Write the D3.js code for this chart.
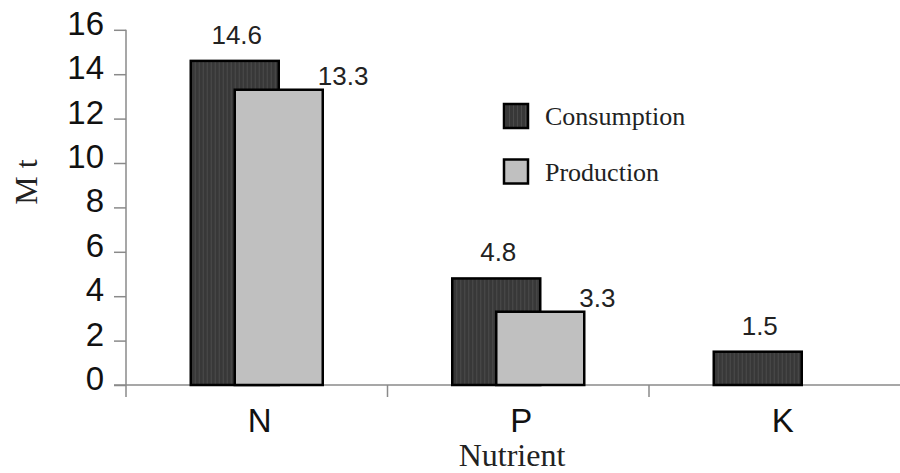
<!DOCTYPE html>
<html>
<head>
<meta charset="utf-8">
<script src="https://cdn.jsdelivr.net/npm/d3@7"></script>
<style>
  html, body { margin: 0; padding: 0; background: #fff; }
  svg { display: block; }
</style>
</head>
<body>
<svg id="chart" width="900" height="473"></svg>
<script>
// Fertilizer nutrient balance (million tonnes)
const nutrients = ["N", "P", "K"];
const seriesNames = ["Consumption", "Production"];
const consumption = [14.6, 4.8, 1.5];
const production = [13.3, 3.3, null];
const yTicks = [0, 2, 4, 6, 8, 10, 12, 14, 16];

const svg = d3.select("#chart");
const sans = "'Liberation Sans', Arial, sans-serif";
const serif = "'Liberation Serif', 'Times New Roman', serif";

const x = d3.scaleBand().domain(nutrients).range([126, 910.5]).padding(0);
const y = d3.scaleLinear().domain([0, 16]).range([385, 29.8]);
const offset = d3.scalePoint().domain(seriesNames).range([-22, 22]);
const barW = 88;

const fills = { Consumption: "url(#stripes)", Production: "#c0c0c0" };

// vertical stripe texture for the dark bars
const defs = svg.append("defs");
const pat = defs.append("pattern")
  .attr("id", "stripes").attr("patternUnits", "userSpaceOnUse")
  .attr("width", 4).attr("height", 4);
pat.append("rect").attr("width", 4).attr("height", 4).attr("fill", "#383838");
pat.append("rect").attr("x", 2).attr("width", 1).attr("height", 4).attr("fill", "#4a4a4a");

const rows = nutrients.map((n, i) => ({
  nutrient: n,
  values: [
    { series: "Consumption", value: consumption[i] },
    { series: "Production", value: production[i] }
  ].filter(d => d.value != null)
}));

// axes
const axisColor = "#8a8a8a";
const yAxis = svg.append("g").attr("transform", "translate(126,0)")
  .call(d3.axisLeft(y).tickValues(yTicks).tickSize(12).tickPadding(10).tickFormat(d3.format("d")));
yAxis.select(".domain").remove();
yAxis.selectAll(".tick line").attr("stroke", axisColor).attr("stroke-width", 1.5);
yAxis.selectAll(".tick text")
  .attr("font-family", sans).attr("font-size", 33).attr("fill", "#111")
  .attr("dy", "0.32em").attr("y", -6);
svg.append("line").attr("x1", 126).attr("x2", 126).attr("y1", y(16)).attr("y2", 397)
  .attr("stroke", axisColor).attr("stroke-width", 1.5);

const xAxis = svg.append("g").attr("transform", "translate(0,385)")
  .call(d3.axisBottom(x).tickSize(0).tickPadding(24));
xAxis.select(".domain").remove();
xAxis.selectAll(".tick text")
  .attr("font-family", sans).attr("font-size", 33).attr("fill", "#111")
  .attr("x", 3);
svg.append("line").attr("x1", 114).attr("x2", 900).attr("y1", 385).attr("y2", 385)
  .attr("stroke", axisColor).attr("stroke-width", 1.5);
// category separators
svg.append("g").selectAll("line")
  .data(nutrients.slice(1))
  .join("line")
  .attr("x1", d => x(d)).attr("x2", d => x(d))
  .attr("y1", 385).attr("y2", 397)
  .attr("stroke", axisColor).attr("stroke-width", 1.5);

// bars: production drawn after consumption so it overlaps
const groups = svg.append("g").selectAll("g")
  .data(rows).join("g")
  .attr("transform", d => `translate(${x(d.nutrient) + x.bandwidth() / 2},0)`);

groups.selectAll("rect")
  .data(d => d.values)
  .join("rect")
  .attr("x", d => offset(d.series) - barW / 2)
  .attr("y", d => y(d.value))
  .attr("width", barW)
  .attr("height", d => y(0) - y(d.value))
  .attr("fill", d => fills[d.series])
  .attr("stroke", "#000")
  .attr("stroke-width", 2.5);

// value labels
groups.selectAll("text.val")
  .data(d => d.values)
  .join("text")
  .attr("class", "val")
  .attr("font-family", sans).attr("font-size", 26).attr("fill", "#222")
  .attr("text-anchor", d => d.series === "Consumption" ? "middle" : "start")
  .attr("x", d => d.series === "Consumption" ? offset(d.series) + 2 : offset(d.series) + barW / 2 - 5)
  .attr("y", d => d.series === "Consumption" ? y(d.value) - 17 : y(d.value) - 5)
  .text(d => d3.format(".1f")(d.value));

// legend
const legend = svg.append("g").selectAll("g")
  .data(seriesNames).join("g")
  .attr("transform", (d, i) => `translate(503,${103 + i * 55.5})`);
legend.append("rect")
  .attr("x", 1).attr("y", 1).attr("width", 24).attr("height", 24)
  .attr("fill", d => fills[d]).attr("stroke", "#000").attr("stroke-width", 2.5);
legend.append("text")
  .attr("x", 42).attr("y", 22)
  .attr("font-family", serif).attr("font-size", 26).attr("fill", "#222")
  .text(d => d);

// axis titles
svg.append("text")
  .attr("x", 512).attr("y", 466)
  .attr("text-anchor", "middle")
  .attr("font-family", serif).attr("font-size", 32).attr("fill", "#222")
  .text("Nutrient");
svg.append("text")
  .attr("transform", "translate(37,182) rotate(-90)")
  .attr("text-anchor", "middle")
  .attr("font-family", serif).attr("font-size", 32).attr("fill", "#222")
  .text("M t");
</script>
</body>
</html>
